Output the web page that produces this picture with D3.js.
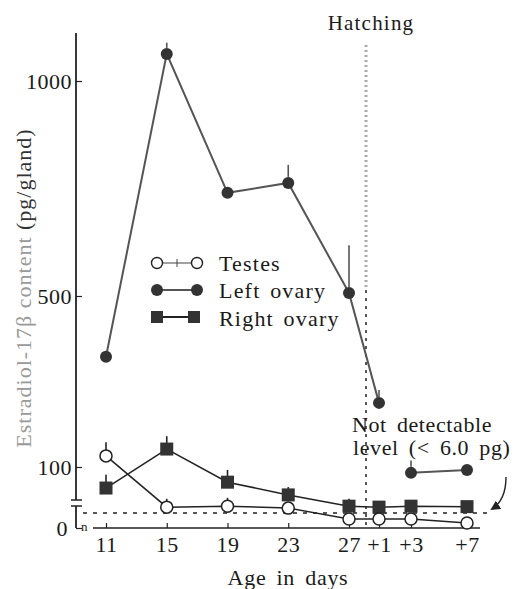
<!DOCTYPE html>
<html>
<head>
<meta charset="utf-8">
<script src="https://cdn.jsdelivr.net/npm/d3@7"></script>
<style>
  body { margin: 0; background: #fff; }
  svg text { font-family: "Liberation Serif", "Times New Roman", serif; fill: #1a1a1a; }
</style>
</head>
<body>
<svg id="chart" width="520" height="589"></svg>
<script>
// ages in days of incubation; hatching is around day 28
let ages = [11, 15, 19, 23, 27, 29, 31, 35];
let ageLabels = ["11", "15", "19", "23", "27", "+1", "+3", "+7"];
let hatchingAge = 28;
let yTicks = [0, 100, 500, 1000];
let detectionLimit = 6.0;

let testes = [126, 18, 20, 16, 3.6, 3.6, 3.6, 2];
let testesErr = [32, 17, 17, 0, 0, 0, 0, 0];
let leftOvary = [358, 1063, 740, 763, 507, 250, 88, 94];
let leftOvaryErr = [0, 26, 0, 42, 111, 30, 27, 0];
let rightOvary = [57, 142, 69, 43, 20, 18, 20, 19];
let rightOvaryErr = [27, 30, 25, 16, 15, 0, 0, 0];
let leftOvaryGapAfter = 5; // no line between +1 and +3

let svg = d3.select('#chart');

// broken axes: piecewise scales
let x = d3.scaleLinear().domain([11, 27, 28, 29, 31, 35]).range([106, 349, 366, 379, 411, 467]);
let y = d3.scaleLinear().domain([0, detectionLimit, 100, 500, 1000]).range([528, 513, 467, 296, 81]);

let axisX = 76;
let baseY = y(0);

// x axis
let xAxis = d3.axisBottom(x).tickValues(ages).tickFormat(function (d, i) { return ageLabels[i]; }).tickSize(-5);
let gx = svg.append('g').attr('transform', 'translate(0,' + baseY + ')').call(xAxis);
gx.select('.domain').remove();
gx.selectAll('line').attr('stroke', '#222').attr('stroke-width', 1.2);
gx.selectAll('text').attr('y', 24).attr('dy', 0).style('font-size', '22px').style('letter-spacing', '0.5px');
svg.append('line').attr('x1', 93).attr('x2', 480).attr('y1', baseY).attr('y2', baseY)
    .attr('stroke', '#222').attr('stroke-width', 1.5);

// y axis (upper part + break + small lower part)
let yAxis = d3.axisLeft(y).tickValues(yTicks).tickFormat(d3.format('d')).tickSize(-6).tickPadding(4);
let gy = svg.append('g').attr('transform', 'translate(' + axisX + ',0)').call(yAxis);
gy.select('.domain').remove();
gy.selectAll('line').attr('stroke', '#222').attr('stroke-width', 1.2);
gy.selectAll('text').style('font-size', '22px').style('letter-spacing', '0.5px');
gy.selectAll('.tick').filter(function (d) { return d === 0; }).select('text').attr('x', -8);

svg.append('line').attr('x1', axisX).attr('x2', axisX).attr('y1', 33).attr('y2', 500)
    .attr('stroke', '#222').attr('stroke-width', 1.8);
svg.append('line').attr('x1', axisX).attr('x2', axisX).attr('y1', 506).attr('y2', baseY)
    .attr('stroke', '#222').attr('stroke-width', 1.8);
[500, 506].forEach(function (yy) {
    svg.append('line').attr('x1', axisX - 5).attr('x2', axisX + 6).attr('y1', yy).attr('y2', yy)
        .attr('stroke', '#222').attr('stroke-width', 1.5);
});
svg.append('text').attr('x', axisX + 5).attr('y', baseY + 3).style('font-size', '13px').text('n');

// detection limit dashed line
svg.append('line').attr('x1', 83).attr('x2', 490).attr('y1', y(detectionLimit)).attr('y2', y(detectionLimit))
    .attr('stroke', '#222').attr('stroke-width', 1.3).attr('stroke-dasharray', '4,6');

// hatching line
let hx = x(hatchingAge);
svg.append('line').attr('x1', hx).attr('x2', hx).attr('y1', 45).attr('y2', 290)
    .attr('stroke', '#aaa').attr('stroke-width', 3).attr('stroke-dasharray', '2,3');
svg.append('line').attr('x1', hx).attr('x2', hx).attr('y1', 290).attr('y2', baseY)
    .attr('stroke', '#222').attr('stroke-width', 1.5).attr('stroke-dasharray', '3,5');
svg.append('text').attr('x', hx + 5).attr('y', 30).attr('text-anchor', 'middle')
    .style('font-size', '21px').style('letter-spacing', '1.2px').text('Hatching');

// series lines
let line = d3.line().x(function (d) { return x(d.age); }).y(function (d) { return y(d.v); })
    .defined(function (d) { return d.v !== null; });

function points(vals, errs) {
    return vals.map(function (v, i) { return {age: ages[i], v: v, err: errs[i]}; });
}
let tData = points(testes, testesErr);
let lData = points(leftOvary, leftOvaryErr);
let rData = points(rightOvary, rightOvaryErr);
let lPath = lData.slice(0, leftOvaryGapAfter + 1).concat([{age: 30, v: null}], lData.slice(leftOvaryGapAfter + 1));

svg.append('path').attr('d', line(lPath)).attr('fill', 'none').attr('stroke', '#555').attr('stroke-width', 2);
svg.append('path').attr('d', line(rData)).attr('fill', 'none').attr('stroke', '#222').attr('stroke-width', 1.5);
svg.append('path').attr('d', line(tData)).attr('fill', 'none').attr('stroke', '#222').attr('stroke-width', 1.5);

// error bars (upward only)
function errorBars(data, off, color) {
    svg.selectAll(null).data(data.filter(function (d) { return d.err > 0; })).enter().append('line')
        .attr('x1', function (d) { return x(d.age); })
        .attr('x2', function (d) { return x(d.age); })
        .attr('y1', function (d) { return y(d.v) - off; })
        .attr('y2', function (d) { return y(d.v + d.err); })
        .attr('stroke', color).attr('stroke-width', 1.6);
}
errorBars(tData, 6, '#222');
errorBars(rData, 6, '#222');
errorBars(lData, 6, '#555');

// markers
svg.selectAll('.lo').data(lData).enter().append('circle').attr('class', 'lo')
    .attr('cx', function (d) { return x(d.age); }).attr('cy', function (d) { return y(d.v); })
    .attr('r', 6).attr('fill', '#333');
svg.selectAll('.ro').data(rData).enter().append('rect').attr('class', 'ro')
    .attr('x', function (d) { return x(d.age) - 6.5; }).attr('y', function (d) { return y(d.v) - 6.5; })
    .attr('width', 13).attr('height', 13).attr('fill', '#333');
svg.selectAll('.te').data(tData).enter().append('circle').attr('class', 'te')
    .attr('cx', function (d) { return x(d.age); }).attr('cy', function (d) { return y(d.v); })
    .attr('r', 6).attr('fill', '#fff').attr('stroke', '#222').attr('stroke-width', 1.5);

// legend
let legend = svg.append('g');
let lx1 = 157, lx2 = 197;
legend.append('line').attr('x1', lx1).attr('x2', lx2).attr('y1', 263).attr('y2', 263).attr('stroke', '#444').attr('stroke-width', 1.2);
legend.append('line').attr('x1', 177).attr('x2', 177).attr('y1', 259).attr('y2', 267).attr('stroke', '#444').attr('stroke-width', 1);
[lx1, lx2].forEach(function (cx) {
    legend.append('circle').attr('cx', cx).attr('cy', 263).attr('r', 5.5).attr('fill', '#fff').attr('stroke', '#222').attr('stroke-width', 1.4);
});
legend.append('line').attr('x1', lx1).attr('x2', lx2).attr('y1', 290).attr('y2', 290).attr('stroke', '#555').attr('stroke-width', 2);
[lx1, lx2].forEach(function (cx) {
    legend.append('circle').attr('cx', cx).attr('cy', 290).attr('r', 6).attr('fill', '#333');
});
legend.append('line').attr('x1', lx1).attr('x2', lx2).attr('y1', 317).attr('y2', 317).attr('stroke', '#222').attr('stroke-width', 2);
[lx1, lx2 - 3].forEach(function (cx) {
    legend.append('rect').attr('x', cx - 6).attr('y', 311).attr('width', 12).attr('height', 12).attr('fill', '#333');
});
[['Testes', 271], ['Left ovary', 298], ['Right ovary', 326]].forEach(function (d) {
    legend.append('text').attr('x', 219).attr('y', d[1]).style('font-size', '22px')
        .style('letter-spacing', '1.2px').style('word-spacing', '3px').text(d[0]);
});

// annotation
let note = svg.append('text').style('font-size', '22px').style('letter-spacing', '0.6px').style('word-spacing', '4px');
note.append('tspan').attr('x', 352).attr('y', 432).text('Not detectable');
note.append('tspan').attr('x', 353).attr('y', 455).text('level (< 6.0 pg)');
svg.append('defs').append('marker').attr('id', 'arr').attr('viewBox', '0 0 10 10')
    .attr('refX', 8).attr('refY', 5).attr('markerWidth', 7).attr('markerHeight', 7).attr('orient', 'auto')
    .append('path').attr('d', 'M0,0L10,5L0,10z').attr('fill', '#222');
svg.append('path').attr('d', 'M506,477 Q506,500 492,509').attr('fill', 'none')
    .attr('stroke', '#222').attr('stroke-width', 1.4).attr('marker-end', 'url(#arr)');

// axis titles
svg.append('text').attr('x', 288).attr('y', 585).attr('text-anchor', 'middle')
    .style('font-size', '22px').style('letter-spacing', '0.7px').style('word-spacing', '4px').text('Age in days');
let yt = svg.append('text').attr('transform', 'translate(31,288) rotate(-90)').attr('text-anchor', 'middle')
    .style('font-size', '22px').style('letter-spacing', '1px');
yt.append('tspan').style('fill', '#999').text('Estradiol-17β content ');
yt.append('tspan').style('fill', '#333').text('(pg/gland)');
</script>
</body>
</html>
